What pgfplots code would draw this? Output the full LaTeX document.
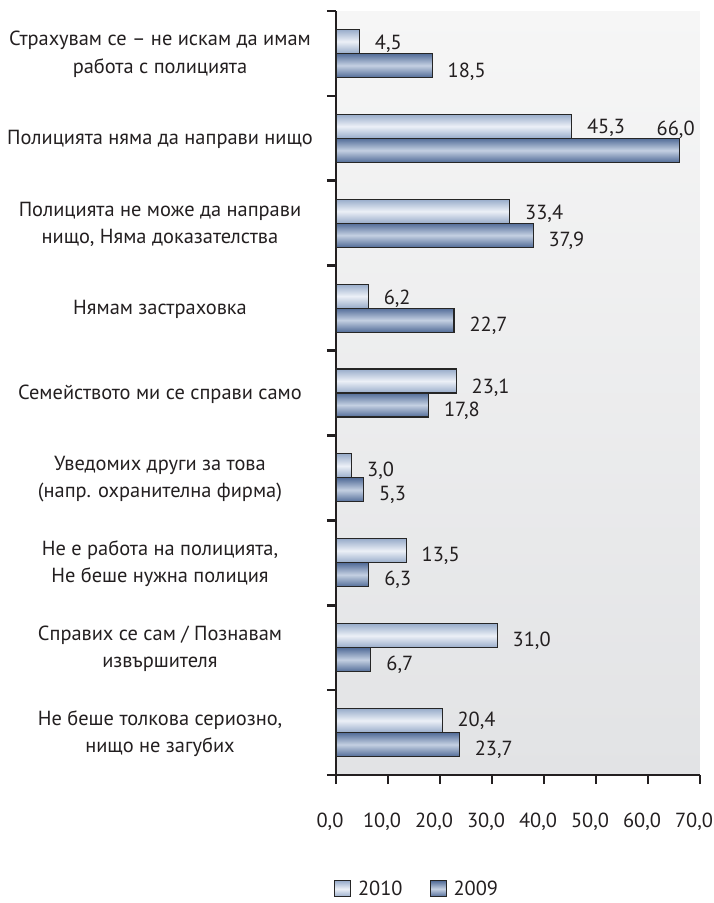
\documentclass[border=0pt]{standalone}
\usepackage{pgfplots}
\pgfplotsset{compat=1.18}
\usepackage{pgfplotstable}
\usepackage{fontspec}
\setmainfont{PT Sans}
\definecolor{txt}{RGB}{35,31,32}
\definecolor{aedge}{RGB}{152,172,202}
\definecolor{amid}{RGB}{236,240,247}
\definecolor{bedge}{RGB}{82,108,152}
\definecolor{bmid}{RGB}{196,208,226}
\definecolor{bgtop}{RGB}{246,246,246}
\definecolor{bgbot}{RGB}{226,227,229}

% 2010
\pgfplotstableread{
y v dx dy
0 20.4 0 1
1 31.0 0 -3.5
2 13.5 0 -4
3 3.0 0 -4
4 23.1 0 -5
5 6.2 0 -1
6 33.4 0 -1
7 45.3 0 0
8 4.5 0 -1
}\tA
% 2009
\pgfplotstableread{
y v dx dy
0 23.7 0 -4
1 6.7 0 -4
2 6.3 0 -4
3 5.3 0 -4
4 17.8 0 -4
5 22.7 0 -4
6 37.9 0 -4
7 66.0 -38 22
8 18.5 0 -5
}\tB

\pgfplotsset{
  barA/.style={draw=black!85, line width=1.1pt, top color=aedge, bottom color=aedge, middle color=amid},
  barB/.style={draw=black!85, line width=1.1pt, top color=bedge, bottom color=bedge, middle color=bmid},
}

\begin{document}
\begin{tikzpicture}
\useasboundingbox (-336pt,-128pt) rectangle (378pt,775pt);
\begin{axis}[
  at={(0,0)}, anchor=south west,
  scale only axis, width=364pt, height=764pt,
  xmin=0, xmax=70, ymin=-0.5, ymax=8.5,
  axis x line*=bottom, axis y line*=left,
  axis line style={line width=2.6pt, color=txt},
  axis background/.style={top color=bgtop, bottom color=bgbot},
  xtick={0,10,...,70}, minor xtick={0,10,...,70},
  ytick={0,...,8}, minor ytick={-0.5,0.5,...,8.5},
  yticklabels={
    {Не беше толкова сериозно,\\нищо не загубих},
    {Справих се сам / Познавам\\извършителя},
    {Не е работа на полицията,\\Не беше нужна полиция},
    {Уведомих други за това\\(напр. охранителна фирма)},
    {Семейството ми се справи само},
    {Нямам застраховка},
    {Полицията не може да направи\\нищо, Няма доказателства},
    {Полицията няма да направи нищо},
    {Страхувам се – не искам да имам\\работа с полицията}},
  major tick length=0pt,
  major tick style={draw=none},
  minor tick length=9pt,
  minor tick style={line width=2.6pt, color=txt},
  tick align=outside,
  /pgf/number format/.cd, fixed, fixed zerofill, precision=1, use comma, assume math mode=true,
  /pgfplots/.cd,
  yticklabel style={anchor=center, align=center, xshift=-176pt, yshift=-1pt, text=txt,
    font=\fontsize{20.4}{27.5}\selectfont},
  xticklabel style={anchor=center, xshift=-6pt, yshift=-47pt, text=txt,
    font=\fontsize{20.4}{24}\selectfont},
  xbar, bar width=24pt,
  nodes near coords, point meta=x,
  visualization depends on={\thisrow{dx} \as \dx},
  visualization depends on={\thisrow{dy} \as \dy},
  every node near coord/.append style={anchor=base west, inner sep=0pt, text=txt,
    font=\fontsize{20.4}{24}\selectfont, xshift=15pt, xshift=\dx pt, yshift=\dy pt, yshift=-7.1pt},
  clip=false,
  legend style={draw=none, fill=none, at={(-0.014,-0.149)}, anchor=west,
    font=\fontsize{20.4}{24}\selectfont, text=txt,
    /tikz/every odd column/.append style={column sep=5pt},
    /tikz/every even column/.append style={column sep=25pt}},
  legend columns=2,
  legend image code/.code={\draw[#1, line width=1pt] (0pt,-8pt) rectangle (16pt,8pt);},
]
\pgfplotsinvokeforeach{0,...,8}{
  \addplot[barA, bar shift=12pt, forget plot, restrict y to domain=#1:#1]
    table[x=v, y=y] {\tA};
  \addplot[barB, bar shift=-12pt, forget plot, restrict y to domain=#1:#1]
    table[x=v, y=y] {\tB};
}
\addlegendimage{barA}
\addlegendentry{2010}
\addlegendimage{barB}
\addlegendentry{2009}
\end{axis}
\end{tikzpicture}
\end{document}
